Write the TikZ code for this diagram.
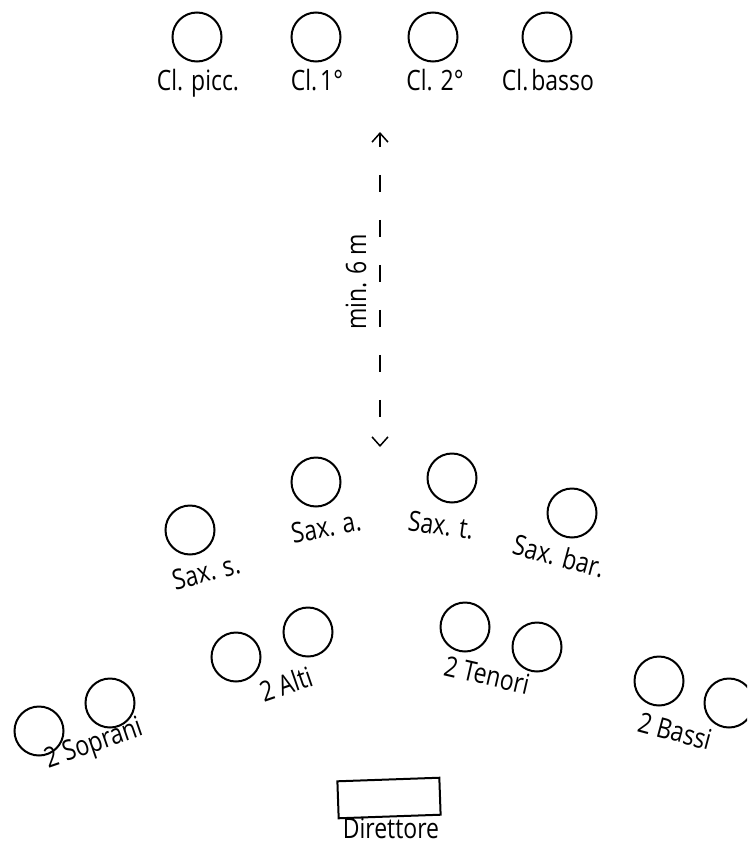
\documentclass[tikz,border=0pt]{standalone}
\usepackage{fontspec}
\setmainfont[FakeStretch=0.82]{Open Sans}
\usetikzlibrary{arrows.meta}
\begin{document}
\begin{tikzpicture}[x=1pt,y=-1pt,
  seat/.style={circle, draw, line width=2pt, minimum size=49pt, inner sep=0pt},
  lbl/.style={font=\fontsize{28}{32}\selectfont, inner sep=0pt},
  dist/.style={line width=1.5pt, dash pattern=on 17pt off 28pt, dash phase=4pt,
    {Straight Barb[length=9pt,width=16pt,line width=1.5pt]}-{Straight Barb[length=9pt,width=16pt,line width=1.5pt]}},
  podium/.style={draw, line width=2pt, minimum width=102pt, minimum height=37pt, inner sep=0pt}]
\useasboundingbox (0,0) rectangle (747,843);
\clip (0,0) rectangle (747,843);
% clarinets
\node[seat] (clp) at (197,37) {};
\node[seat] (cl1) at (316,37) {};
\node[seat] (cl2) at (433,37) {};
\node[seat] (clb) at (547,37) {};
\node[lbl, anchor=base] (lclp) at (198,90) {Cl. picc.};
\node[lbl, anchor=base] (lcl1) at (317,90) {Cl.\kern3pt 1°};
\node[lbl, anchor=base] (lcl2) at (435,90) {Cl. 2°};
\node[lbl, anchor=base] (lclb) at (548,90) {Cl.\kern3pt basso};
% distance arrow
\coordinate (dtop) at (380,132);
\coordinate (dbot) at (380,447);
\draw[dist] (dtop) -- (dbot);
\node[lbl, rotate=90] (ldist) at (356,282) {min. 6 m};
% saxophones
\node[seat] (sxs) at (190,530) {};
\node[seat] (sxa) at (316,482) {};
\node[seat] (sxt) at (452,478) {};
\node[seat] (sxb) at (572,513) {};
\node[lbl, rotate=15] (lsxs) at (206,572) {Sax. s.};
\node[lbl, rotate=11] (lsxa) at (326,527) {Sax. a.};
\node[lbl, rotate=-8] (lsxt) at (441,525) {Sax. t.};
\node[lbl, rotate=-15] (lsxb) at (559,556) {Sax. bar.};
% singers
\node[seat] (s1) at (39,731) {};
\node[seat] (s2) at (110,703) {};
\node[seat] (a1) at (236,657) {};
\node[seat] (a2) at (308,632) {};
\node[seat] (t1) at (465,627) {};
\node[seat] (t2) at (537,647) {};
\node[seat] (b1) at (659,681) {};
\node[seat] (b2) at (729,703) {};
\node[lbl, rotate=19] (ls) at (94,745) {2 Soprani};
\node[lbl, rotate=19] (la) at (286,684) {2 Alti};
\node[lbl, rotate=-13] (lt) at (487,675) {2 Tenori};
\node[lbl, rotate=-15] (lb) at (675,731) {2 Bassi};
% conductor
\node[podium, rotate=2] (dir) at (389,798) {};
\node[lbl] (ldir) at (391,828) {Direttore};
\end{tikzpicture}
\end{document}
